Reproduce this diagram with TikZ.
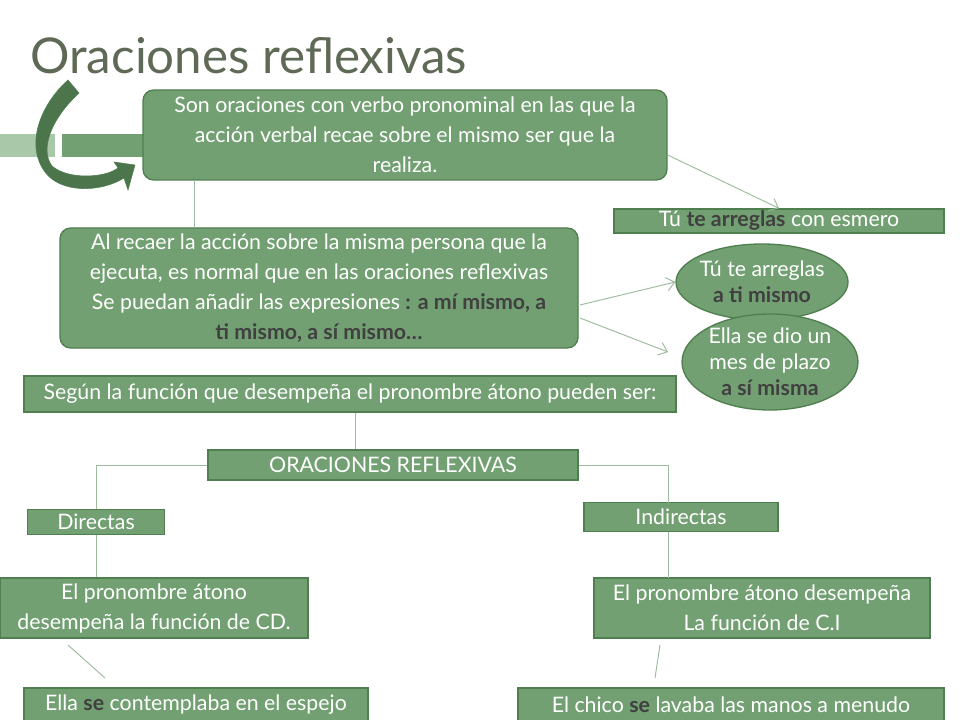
\documentclass[tikz,border=0pt]{standalone}
\usepackage{fontspec}
\setmainfont{Lato}
\usetikzlibrary{shapes.geometric,arrows.meta}
\definecolor{gfill}{HTML}{72A072}
\definecolor{gdraw}{HTML}{4F7F4F}
\definecolor{glin}{HTML}{9DBB9D}
\definecolor{gtitle}{HTML}{5F6A56}
\definecolor{garrow}{HTML}{5A8A5A}
\definecolor{glight}{HTML}{A9C8A9}
\newcommand{\bt}[1]{\textbf{\color{black!75}#1}}
\tikzset{
  box/.style={draw=gdraw,line width=1pt,fill=gfill,text=white,font=\fontsize{16}{22.5}\selectfont,align=center,inner sep=0pt},
  rbox/.style={box,rounded corners=8pt},
  elli/.style={box,ellipse},
  conn/.style={draw=glin,line width=0.7pt},
  arr/.style={conn,-{Straight Barb[length=6pt,width=10pt]}}
}
\begin{document}
\begin{tikzpicture}[x=0.75pt,y=-0.75pt]
\useasboundingbox[fill=white] (0,0) rectangle (960,720);
\node[anchor=base west,text=gtitle,font=\fontsize{37}{40}\selectfont,inner sep=0] (title) at (30,74) {Oraciones reflexivas};
% bars
\fill[glight] (0,134) rectangle (55,157);
\fill[gfill] (62,134) rectangle (150,157);
% curved arrow
\fill[garrow!85!black,draw=gdraw] (68,80) -- (79,93) .. controls (50,120) and (40,150) .. (52,166) .. controls (68,180) and (105,178) .. (118,168) -- (114,162) -- (135,165) -- (128,190) -- (124,178) .. controls (100,193) and (60,193) .. (45,172) .. controls (25,145) and (40,105) .. (68,80) -- cycle;
\node[rbox,minimum width=524pt*0.75,minimum height=90pt*0.75] (b1) at (405,135) {Son oraciones con verbo pronominal en las que la\\acción verbal recae sobre el mismo ser que la\\realiza.};
\node[rbox,minimum width=518pt*0.75,minimum height=120pt*0.75] (b2) at (319,288) {Al recaer la acción sobre la misma persona que la\\ejecuta, es normal que en las oraciones reflexivas\\Se puedan añadir las expresiones \bt{: a mí mismo, a}\\\bt{ti mismo, a sí mismo…}};
\node[box,minimum width=330pt*0.75,minimum height=24pt*0.75] (ej) at (779,221) {Tú \bt{te arreglas} con esmero};
\node[elli,minimum width=172pt*0.75,minimum height=76pt*0.75,inner sep=-10pt,font=\fontsize{16}{19.5}\selectfont] (e1) at (762,282) {Tú te arreglas\\\bt{a ti mismo}};
\node[elli,minimum width=176pt*0.75,minimum height=96pt*0.75,inner sep=-14pt,font=\fontsize{16}{19.5}\selectfont] (e2) at (770,362) {Ella se dio un\\mes de plazo\\\bt{a sí misma}};
\node[box,minimum width=652pt*0.75,minimum height=36pt*0.75] (seg) at (350,394) {Según la función que desempeña el pronombre átono pueden ser:};
\node[box,minimum width=370pt*0.75,minimum height=30pt*0.75] (or) at (393,465) {ORACIONES REFLEXIVAS};
\node[box,minimum width=137pt*0.75,minimum height=25pt*0.75] (dir) at (96,522) {Directas};
\node[box,minimum width=194pt*0.75,minimum height=29pt*0.75] (ind) at (681,517) {Indirectas};
\node[box,minimum width=308pt*0.75,minimum height=60pt*0.75] (cd) at (154,608) {El pronombre átono\\desempeña la función de CD.};
\node[box,minimum width=336pt*0.75,minimum height=60pt*0.75] (ci) at (762,608) {El pronombre átono desempeña\\La función de C.I};
\node[box,minimum width=344pt*0.75,minimum height=34pt*0.75] (ex1) at (196,705) {Ella \bt{se} contemplaba en el espejo};
\node[box,minimum width=426pt*0.75,minimum height=34pt*0.75] (ex2) at (731,705) {El chico \bt{se} lavaba las manos a menudo};
% connectors
\draw[conn] (b1.south west) ++(52*0.75pt,0) coordinate (c1) -- (c1 |- b2.north);
\draw[arr] ([yshift=-15pt]b1.east) -- (ej.north);
\coordinate (p1) at (580,305); \coordinate (p2) at (580,318);
\draw[arr] (p1) -- (e1.west);
\draw[arr] (p2) -- (668,352);
\draw[conn] (seg.south -| or.north) ++(-38*0.75pt,0) coordinate (c2) -- (c2 |- or.north);
\draw[conn] (or.west) -| (dir.north);
\draw[conn] (or.east) -| (668,503);
\draw[conn] (dir.south) -- (dir.south |- cd.north);
\draw[conn] (668,532) -- (668,578);
\draw[conn] (68,645) -- (105,678);
\draw[conn] (660,645) -- (655,678);
\end{tikzpicture}
\end{document}
